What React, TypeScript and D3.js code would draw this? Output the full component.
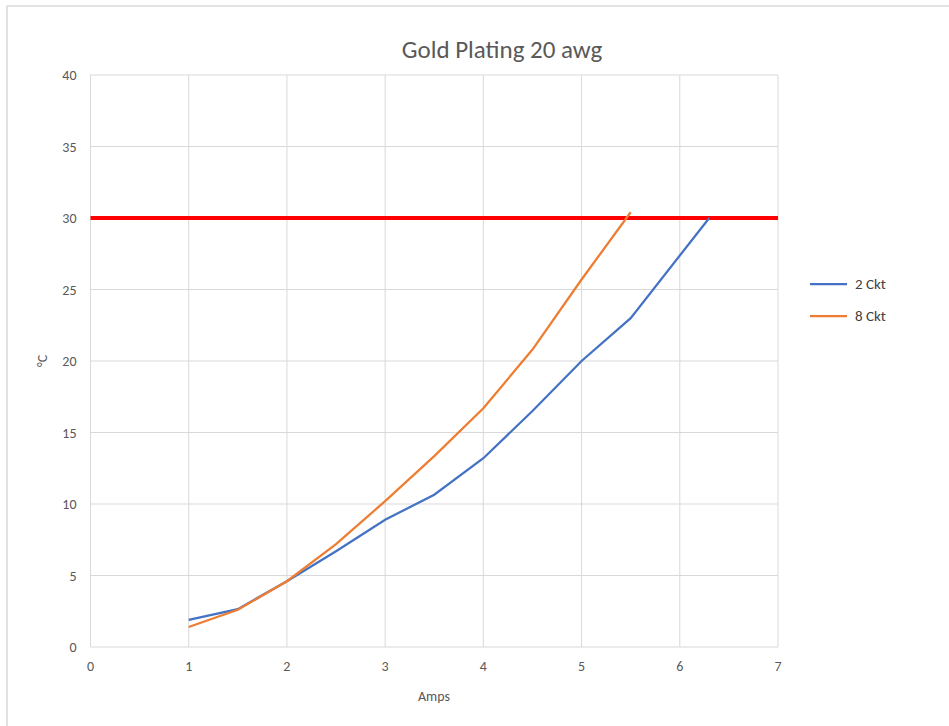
import React from "react";
import * as d3 from "d3";

const ampsBlue = [1, 1.5, 2, 2.5, 3, 3.5, 4, 4.5, 5, 5.5, 6.3];
const tempBlue = [1.9, 2.65, 4.6, 6.7, 8.9, 10.65, 13.2, 16.5, 20.0, 23.0, 30.0];
const ampsOrange = [1, 1.5, 2, 2.5, 3, 3.5, 4, 4.5, 5, 5.5];
const tempOrange = [1.4, 2.6, 4.6, 7.2, 10.2, 13.35, 16.7, 20.8, 25.7, 30.4];
const seriesNames = ["2 Ckt", "8 Ckt"];
const seriesColors = ["#4472C4", "#ED7D31"];
const xTicks = [0, 1, 2, 3, 4, 5, 6, 7];
const yTicks = [0, 5, 10, 15, 20, 25, 30, 35, 40];
const limitValue = 30;

const W = 949;
const H = 726;
const left = 90.5;
const right = 778;
const top = 75;
const bottom = 647;
const font = "Calibri, Carlito, 'Open Sans', sans-serif";

export default function App() {
  const x = d3.scaleLinear().domain([0, 7]).range([left, right]);
  const y = d3.scaleLinear().domain([0, 40]).range([bottom, top]);
  const line = d3
    .line<[number, number]>()
    .x((d) => x(d[0]))
    .y((d) => y(d[1]));
  const blue: [number, number][] = ampsBlue.map((a, i) => [a, tempBlue[i]]);
  const orange: [number, number][] = ampsOrange.map((a, i) => [a, tempOrange[i]]);

  return (
    <svg
      width={W}
      height={H}
      style={{ position: "absolute", left: 0, top: 0, background: "#fff" }}
    >
      <rect x={0} y={0} width={W} height={H} fill="#fff" />
      <line x1={7} y1={6} x2={W} y2={6} stroke="#d9d9d9" strokeWidth={1.5} />
      <line x1={7} y1={6} x2={7} y2={H} stroke="#d9d9d9" strokeWidth={1.5} />
      {yTicks.map((t) => (
        <line
          key={"gy" + t}
          x1={left}
          x2={right}
          y1={y(t)}
          y2={y(t)}
          stroke="#d9d9d9"
          strokeWidth={1}
        />
      ))}
      {xTicks.map((t) => (
        <line
          key={"gx" + t}
          x1={x(t)}
          x2={x(t)}
          y1={top}
          y2={bottom}
          stroke="#d9d9d9"
          strokeWidth={1}
        />
      ))}
      {yTicks.map((t) => (
        <text
          key={"ty" + t}
          x={left - 14}
          y={y(t) + 5}
          textAnchor="end"
          fontFamily={font}
          fontSize={14}
          fill="#595959"
        >
          {t}
        </text>
      ))}
      {xTicks.map((t) => (
        <text
          key={"tx" + t}
          x={x(t)}
          y={bottom + 24}
          textAnchor="middle"
          fontFamily={font}
          fontSize={14}
          fill="#595959"
        >
          {t}
        </text>
      ))}
      <line
        x1={left}
        x2={right}
        y1={y(limitValue)}
        y2={y(limitValue)}
        stroke="#FF0000"
        strokeWidth={4}
      />
      <path d={line(blue) || ""} fill="none" stroke={seriesColors[0]} strokeWidth={2.25} />
      <path d={line(orange) || ""} fill="none" stroke={seriesColors[1]} strokeWidth={2.25} />
      <text
        x={502}
        y={58}
        textAnchor="middle"
        fontFamily={font}
        fontSize={25}
        fill="#595959"
      >
        Gold Plating 20 awg
      </text>
      <text
        x={434}
        y={701}
        textAnchor="middle"
        fontFamily={font}
        fontSize={14}
        fill="#595959"
      >
        Amps
      </text>
      <text
        transform={`translate(47, ${(top + bottom) / 2}) rotate(-90)`}
        textAnchor="middle"
        fontFamily={font}
        fontSize={14}
        fill="#595959"
      >
        °C
      </text>
      {seriesNames.map((n, i) => (
        <g key={n}>
          <line
            x1={810}
            x2={847}
            y1={284 + i * 32}
            y2={284 + i * 32}
            stroke={seriesColors[i]}
            strokeWidth={2.25}
          />
          <text
            x={855}
            y={289 + i * 32}
            fontFamily={font}
            fontSize={15}
            fill="#404040"
          >
            {n}
          </text>
        </g>
      ))}
    </svg>
  );
}
